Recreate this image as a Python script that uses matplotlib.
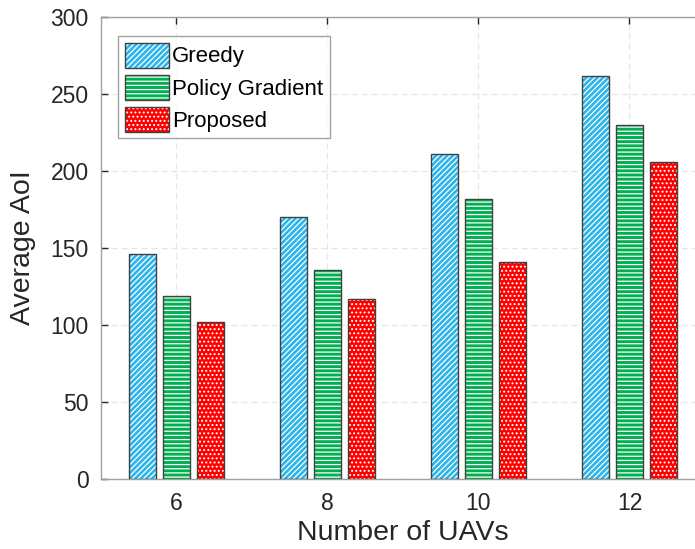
import matplotlib.pyplot as plt
from matplotlib.patches import Patch
import numpy as np

plt.rcParams['font.family'] = ['Liberation Sans', 'DejaVu Sans']
plt.rcParams['hatch.linewidth'] = 0.9

uavs = [6, 8, 10, 12]
greedy = [146, 170, 211, 262]
policy_gradient = [119, 136, 182, 230]
proposed = [102, 117, 141, 206]

series = [
    ('Greedy', greedy, '#2cb5ea', '//////'),
    ('Policy Gradient', policy_gradient, '#00b050', '----'),
    ('Proposed', proposed, '#ff0000', '....'),
]

fig = plt.figure(figsize=(6.95, 5.49), dpi=100)
# axes run a little past the right edge of the canvas
ax = fig.add_axes([101 / 695, 70 / 549, 604 / 695, 462 / 549])

x = np.array(uavs, dtype=float)
offsets = [-0.45, 0.0, 0.45]
width = 0.37

for (name, vals, color, hatch), off in zip(series, offsets):
    # colored fill with white hatch, then a dark outline on top
    ax.bar(x + off, vals, width, color=color, edgecolor='white',
           hatch=hatch, linewidth=0, zorder=2)
    ax.bar(x + off, vals, width, fill=False, edgecolor='#404040',
           linewidth=1.0, zorder=3)

ax.set_xlim(5, 13)
ax.set_ylim(0, 300)
ax.set_xticks(uavs)
ax.set_yticks(range(0, 301, 50))

ax.grid(True, linestyle=(0, (5, 3)), color='#e6e6e6', linewidth=0.9, zorder=0)
ax.set_axisbelow(True)

for s in ax.spines.values():
    s.set_color('#a0a0a0')
    s.set_linewidth(1.0)
ax.tick_params(direction='in', length=5, width=1.0, color='#262626',
               labelsize=16.5, labelcolor='#262626', top=True, right=True,
               pad=9)

ax.set_xlabel('Number of UAVs', fontsize=20.5, color='#262626', labelpad=4)
ax.set_ylabel('Average AoI', fontsize=20.5, color='#262626', labelpad=10)

handles = [Patch(facecolor=c, edgecolor='white', hatch=h, linewidth=0)
           for _, _, c, h in series]
outlines = [Patch(fill=False, edgecolor='#404040', linewidth=1.0)
            for _ in series]
leg = ax.legend([(h, o) for h, o in zip(handles, outlines)],
                [s[0] for s in series], loc='upper left',
                bbox_to_anchor=(0.028, 0.959), fontsize=16,
                frameon=True, fancybox=False, edgecolor='#8c8c8c',
                handlelength=2.0, handleheight=1.35, handletextpad=0.15,
                borderpad=0.3, labelspacing=0.32, borderaxespad=0)
leg.get_frame().set_linewidth(1.0)

fig.savefig('out.png', dpi=100)
